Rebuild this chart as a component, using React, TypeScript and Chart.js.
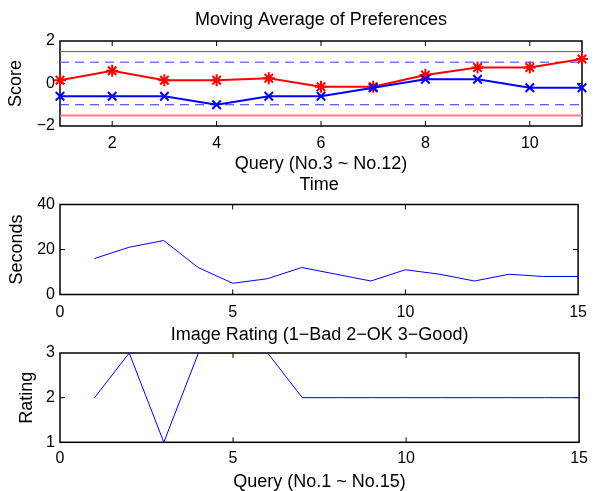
import React, { useEffect, useRef } from 'react';
import { Chart, registerables } from 'chart.js';

Chart.register(...registerables);

// ---------- data ----------
const prefQueries = [1, 2, 3, 4, 5, 6, 7, 8, 9, 10, 11];
const redAverage = [0.15, 0.6, 0.15, 0.15, 0.25, -0.15, -0.15, 0.4, 0.75, 0.75, 1.15];
const blueAverage = [-0.6, -0.6, -0.6, -1.0, -0.6, -0.6, -0.2, 0.2, 0.2, -0.2, -0.2];
const redBounds = [1.5, -1.5];
const blueBounds = [1, -1];
const scoreTicks = [-2, 0, 2];
const prefXTicks = [2, 4, 6, 8, 10];

const queryNumbers = [1, 2, 3, 4, 5, 6, 7, 8, 9, 10, 11, 12, 13, 14, 15];
const timeSeconds = [16, 21, 24, 12, 5, 7, 12, 9, 6, 11, 9, 6, 9, 8, 8];
const imageRatings = [2, 3, 1, 3, 3, 3, 2, 2, 2, 2, 2, 2, 2, 2, 2];
const secondsTicks = [0, 20, 40];
const ratingTicks = [1, 2, 3];
const queryTicks = [0, 5, 10, 15];

// ---------- styling ----------
const FONT = '"Liberation Sans", Arial, Helvetica, sans-serif';
const TICK_SIZE = 16;
const LABEL_SIZE = 18;
const TICK_LEN = 5;
const W = 595;

const fmt = (v: number) => (v < 0 ? '\u2212' + Math.abs(v) : String(v));

const axesBoxPlugin = {
  id: 'axesBox',
  beforeDatasetsDraw(chart: any) {
    const { ctx, chartArea: a } = chart;
    const xs = chart.scales.x;
    const ys = chart.scales.y;
    ctx.save();
    ctx.strokeStyle = '#000';
    ctx.lineWidth = 1;
    ctx.beginPath();
    xs.ticks.forEach((t: any) => {
      const px = xs.getPixelForValue(t.value);
      if (px <= a.left + 1 || px >= a.right - 1) return;
      ctx.moveTo(px, a.bottom);
      ctx.lineTo(px, a.bottom - TICK_LEN);
      ctx.moveTo(px, a.top);
      ctx.lineTo(px, a.top + TICK_LEN);
    });
    ys.ticks.forEach((t: any) => {
      const py = ys.getPixelForValue(t.value);
      if (py <= a.top + 1 || py >= a.bottom - 1) return;
      ctx.moveTo(a.left, py);
      ctx.lineTo(a.left + TICK_LEN, py);
      ctx.moveTo(a.right, py);
      ctx.lineTo(a.right - TICK_LEN, py);
    });
    ctx.stroke();
    ctx.lineWidth = 1.5;
    ctx.strokeRect(a.left, a.top, a.right - a.left, a.bottom - a.top);
    ctx.restore();
  },
};

type AxisCfg = {
  min: number;
  max: number;
  ticks: number[];
  tickPad: number;
  size: number;
  title?: string;
  titlePad?: { top: number; bottom: number };
};

function makeOptions(o: {
  title: string;
  titlePad: { top: number; bottom: number };
  x: AxisCfg;
  y: AxisCfg;
}) {
  const axis = (c: AxisCfg, isY: boolean) => ({
    type: 'linear',
    min: c.min,
    max: c.max,
    afterBuildTicks: (s: any) => {
      s.ticks = c.ticks.map((v) => ({ value: v }));
    },
    afterFit: (s: any) => {
      if (isY) s.width = c.size;
      else s.height = c.size;
    },
    grid: { display: false, drawTicks: false },
    border: { display: false },
    ticks: {
      color: '#000',
      padding: c.tickPad,
      maxRotation: 0,
      autoSkip: false,
      font: { family: FONT, size: TICK_SIZE },
      callback: (v: any) => fmt(Number(v)),
    },
    title: c.title
      ? {
          display: true,
          text: c.title,
          color: '#000',
          font: { family: FONT, size: LABEL_SIZE, lineHeight: 1.2 },
          padding: c.titlePad,
        }
      : { display: false },
  });
  return {
    animation: false,
    responsive: false,
    maintainAspectRatio: false,
    devicePixelRatio: 1,
    layout: { padding: { left: 0, right: 13, top: 0, bottom: 0 } },
    plugins: {
      legend: { display: false },
      tooltip: { enabled: false },
      title: {
        display: true,
        text: o.title,
        color: '#000',
        fullSize: false,
        font: { family: FONT, size: LABEL_SIZE, weight: 'normal', lineHeight: 1.2 },
        padding: o.titlePad,
      },
    },
    scales: { x: axis(o.x, false), y: axis(o.y, true) },
  };
}

const hLine = (xs: number[], v: number) => [
  { x: xs[0], y: v },
  { x: xs[xs.length - 1], y: v },
];

function buildPreferences() {
  const pts = (ys: number[]) => prefQueries.map((x, i) => ({ x, y: ys[i] }));
  return {
    type: 'line',
    data: {
      datasets: [
        {
          data: pts(blueAverage),
          borderColor: '#0000ff',
          borderWidth: 2,
          pointStyle: 'crossRot',
          pointRadius: 6,
          pointBorderWidth: 2,
          pointBorderColor: '#0000ff',
          clip: false,
        },
        {
          data: pts(redAverage),
          borderColor: '#ff0000',
          borderWidth: 2,
          pointStyle: 'star',
          pointRadius: 6,
          pointBorderWidth: 2,
          pointBorderColor: '#ff0000',
          clip: false,
        },
        {
          data: hLine(prefQueries, blueBounds[0]),
          borderColor: '#7878ff',
          borderWidth: 1.5,
          borderDash: [9, 6],
          pointRadius: 0,
        },
        {
          data: hLine(prefQueries, blueBounds[1]),
          borderColor: '#2a2aff',
          borderWidth: 1,
          borderDash: [9, 6],
          pointRadius: 0,
        },
        {
          data: hLine(prefQueries, redBounds[0]),
          borderColor: '#ff1a1a',
          borderWidth: 1,
          pointRadius: 0,
        },
        {
          data: hLine(prefQueries, redBounds[1]),
          borderColor: '#ff7a7a',
          borderWidth: 2,
          pointRadius: 0,
        },
      ],
    },
    options: makeOptions({
      title: 'Moving Average of Preferences',
      titlePad: { top: 9.2, bottom: 10.2 },
      x: {
        min: prefQueries[0],
        max: prefQueries[prefQueries.length - 1],
        ticks: prefXTicks,
        tickPad: 8,
        size: 49,
        title: 'Query (No.3 ~ No.12)',
        titlePad: { top: 0.2, bottom: 0.2 },
      },
      y: {
        min: scoreTicks[0],
        max: scoreTicks[scoreTicks.length - 1],
        ticks: scoreTicks,
        tickPad: 5,
        size: 60,
        title: 'Score',
        titlePad: { top: 5.2, bottom: 0 },
      },
    }),
    plugins: [axesBoxPlugin],
  };
}

function buildTime() {
  return {
    type: 'line',
    data: {
      datasets: [
        {
          data: queryNumbers.map((x, i) => ({ x, y: timeSeconds[i] })),
          borderColor: '#0000ff',
          borderWidth: 1,
          pointRadius: 0,
        },
      ],
    },
    options: makeOptions({
      title: 'Time',
      titlePad: { top: 4.2, bottom: 8.7 },
      x: {
        min: queryTicks[0],
        max: queryTicks[queryTicks.length - 1],
        ticks: queryTicks,
        tickPad: 8,
        size: 27.5,
      },
      y: {
        min: secondsTicks[0],
        max: secondsTicks[secondsTicks.length - 1],
        ticks: secondsTicks,
        tickPad: 5,
        size: 60,
        title: 'Seconds',
        titlePad: { top: 5.9, bottom: 0 },
      },
    }),
    plugins: [axesBoxPlugin],
  };
}

function buildRating() {
  return {
    type: 'line',
    data: {
      datasets: [
        {
          data: queryNumbers.map((x, i) => ({ x, y: imageRatings[i] })),
          borderColor: '#0000ff',
          borderWidth: 1,
          pointRadius: 0,
        },
      ],
    },
    options: makeOptions({
      title: 'Image Rating (1\u2212Bad 2\u2212OK 3\u2212Good)',
      titlePad: { top: 8.2, bottom: 7.2 },
      x: {
        min: queryTicks[0],
        max: queryTicks[queryTicks.length - 1],
        ticks: queryTicks,
        tickPad: 7,
        size: 50.7,
        title: 'Query (No.1 ~ No.15)',
        titlePad: { top: 2.4, bottom: 0.5 },
      },
      y: {
        min: ratingTicks[0],
        max: ratingTicks[ratingTicks.length - 1],
        ticks: ratingTicks,
        tickPad: 5,
        size: 60,
        title: 'Rating',
        titlePad: { top: 15.9, bottom: 0 },
      },
    }),
    plugins: [axesBoxPlugin],
  };
}

function ChartCanvas({ top, height, build }: { top: number; height: number; build: () => any }) {
  const ref = useRef<HTMLCanvasElement | null>(null);
  useEffect(() => {
    if (!ref.current) return;
    const chart = new Chart(ref.current, build());
    return () => chart.destroy();
  }, [build]);
  return (
    <canvas
      ref={ref}
      width={W}
      height={height}
      style={{ position: 'absolute', left: 0, top, width: W, height, display: 'block' }}
    />
  );
}

export default function App() {
  return (
    <div
      style={{
        position: 'absolute',
        left: 0,
        top: 0,
        width: W,
        height: 491,
        overflow: 'hidden',
        background: '#fff',
      }}
    >
      <ChartCanvas top={0} height={175} build={buildPreferences} />
      <ChartCanvas top={170} height={152} build={buildTime} />
      <ChartCanvas top={316} height={177} build={buildRating} />
    </div>
  );
}
